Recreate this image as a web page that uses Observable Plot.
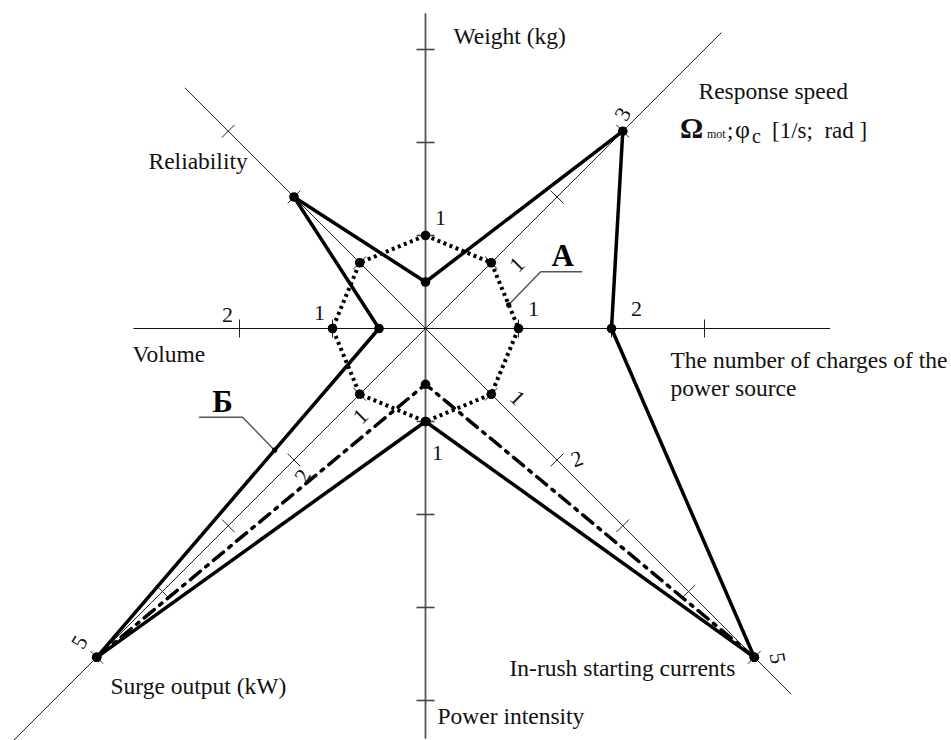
<!DOCTYPE html>
<html><head><meta charset="utf-8">
<script src="https://cdn.jsdelivr.net/npm/d3@7"></script>
<script src="https://cdn.jsdelivr.net/npm/@observablehq/plot@0.6"></script>
<style>body{margin:0;background:#fff;} svg text{white-space:pre;}</style>
</head><body><div id="chart"></div>
<script>
// ---------- data ----------
const axisNames = ["Weight (kg)", "Response speed", "The number of charges of the power source",
  "In-rush starting currents", "Power intensity", "Surge output (kW)", "Volume", "Reliability"];
const axisAngles = [90, 45, 0, -45, -90, -135, 180, 135];
const axisLengths = [3.39, 4.5, 4.35, 5.56, 4.41, 6.26, 3.14, 3.66];
const axisTickCounts = [3, 3, 3, 5, 4, 5, 2, 3];
const seriesB = [0.5, 3, 2, 5, 1, 5, 0.5, 2];          // solid (Б)
const seriesA = [1, 1, 1, 1, 1, 1, 1, 1];              // dotted (A)
const seriesDashDot = [null, null, null, 5, 0.6, 5, null, null];
const tickLabelAxis  = [0, 4, 2, 2, 6, 6, 1, 1, 3, 3, 3, 5, 5, 5];
const tickLabelValue = [1, 1, 1, 2, 1, 2, 1, 3, 1, 2, 5, 1, 2, 5];

// ---------- layout ----------
const W = 951, H = 740, cx = 425, cy = 328, U = 93;
const tickLabelOffset = [[15,-18],[12,31],[15,-20],[25,-20],[-13,-16],[-12,-14],[26,2],[0,-17],[26,4],[20,-1],[23,1],[1,22],[9,16],[-17,-15]];
const tickLabelRotate = [0,0,0,0,0,0,-45,-60,45,-20,80,-45,-60,-60];
const titleLines = [
  {t:"Weight (kg)", px:453, py:43},
  {t:"Response speed", px:698, py:98},
  {t:"Reliability", px:148, py:168},
  {t:"Volume", px:132, py:361},
  {t:"The number of charges of the", px:670, py:367},
  {t:"power source", px:670, py:395},
  {t:"Surge output (kW)", px:110, py:693},
  {t:"In-rush starting currents", px:509, py:675},
  {t:"Power intensity", px:437, py:723}
];

const rad = d => d * Math.PI / 180;
function polar(i, r) { const a = rad(axisAngles[i]); return {x: r * Math.cos(a), y: r * Math.sin(a)}; }
const fromPx = (px, py) => ({x: (px - cx) / U, y: (cy - py) / U});
const off = (p, dx, dy) => ({x: p.x + dx / U, y: p.y - dy / U});

const spokes = axisNames.map((n, i) => ({i, ...polar(i, axisLengths[i])}));
const ticks = [];
axisNames.forEach((n, i) => {
  const a = rad(axisAngles[i]), h = 9 / U;
  for (let k = 1; k <= axisTickCounts[i]; k++) {
    const p = polar(i, k);
    ticks.push({i, x1: p.x - h * Math.sin(a), y1: p.y + h * Math.cos(a), x2: p.x + h * Math.sin(a), y2: p.y - h * Math.cos(a)});
  }
});
const tickLabels = tickLabelAxis.map((ax, j) => {
  const p = polar(ax, tickLabelValue[j]);
  return {text: String(tickLabelValue[j]), x: p.x, y: p.y, dx: tickLabelOffset[j][0], dy: tickLabelOffset[j][1], rot: tickLabelRotate[j]};
});
const ptsB = seriesB.map((v, i) => polar(i, v));
const ptsA = seriesA.map((v, i) => polar(i, v));
const ptsD = [];
seriesDashDot.forEach((v, i) => { if (v != null) ptsD.push(polar(i, v)); });

const lerp = (p, q, t) => ({x: p.x + (q.x - p.x) * t, y: p.y + (q.y - p.y) * t});
const anchorA = lerp(ptsA[1], ptsA[2], 0.64);
const anchorB = lerp(ptsB[5], ptsB[6], 0.63);
const elbowA = off(anchorA, 32, -33), endA = off(elbowA, 41, 0);
const elbowB = off(anchorB, -32, -33), endB = off(elbowB, -43, 0);

const serif = "'Liberation Serif', 'Times New Roman', serif";
const isVert = d => d.i === 0 || d.i === 4;
const isHorz = d => d.i === 2 || d.i === 6;
const isDiag = d => !isVert(d) && !isHorz(d);

const chart = Plot.plot({
  width: W, height: H, margin: 0,
  x: {domain: [-cx / U, (W - cx) / U], axis: null},
  y: {domain: [-(H - cy) / U, cy / U], axis: null},
  style: {background: "#fff", fontFamily: serif},
  marks: [
    Plot.link(spokes.filter(isVert), {x1: 0, y1: 0, x2: "x", y2: "y", stroke: "#555", strokeWidth: 1.8}),
    Plot.link(spokes.filter(isHorz), {x1: 0, y1: 0, x2: "x", y2: "y", stroke: "#111", strokeWidth: 1.2}),
    Plot.link(spokes.filter(isDiag), {x1: 0, y1: 0, x2: "x", y2: "y", stroke: "#222", strokeWidth: 1}),
    Plot.link(ticks.filter(isVert), {x1: "x1", y1: "y1", x2: "x2", y2: "y2", stroke: "#444", strokeWidth: 1.6}),
    Plot.link(ticks.filter(d => !isVert(d)), {x1: "x1", y1: "y1", x2: "x2", y2: "y2", stroke: "#222", strokeWidth: 1}),
    Plot.line(ptsA, {x: "x", y: "y", curve: "linear-closed", stroke: "#000", strokeWidth: 4, strokeDasharray: "3,3.5", strokeLinecap: "butt"}),
    Plot.line(ptsD, {x: "x", y: "y", stroke: "#000", strokeWidth: 3.5, strokeDasharray: "13,7,3,7"}),
    Plot.line(ptsB, {x: "x", y: "y", curve: "linear-closed", stroke: "#000", strokeWidth: 3.5, strokeLinejoin: "miter"}),
    Plot.dot(ptsA, {x: "x", y: "y", r: 4.8, fill: "#000"}),
    Plot.dot(ptsB, {x: "x", y: "y", r: 4.8, fill: "#000"}),
    Plot.dot(ptsD, {x: "x", y: "y", r: 4.8, fill: "#000"}),
    Plot.line([anchorA, elbowA, endA], {x: "x", y: "y", stroke: "#555", strokeWidth: 1.5}),
    Plot.line([anchorB, elbowB, endB], {x: "x", y: "y", stroke: "#555", strokeWidth: 1.5}),
    Plot.dot([anchorA, anchorB], {x: "x", y: "y", r: 2.6, fill: "#000"}),
    Plot.text([{...elbowA, t: "A"}], {x: "x", y: "y", text: "t", dx: 22, dy: -6, lineAnchor: "bottom", textAnchor: "middle", fontSize: 31, fontWeight: "bold", fill: "#000", fontFamily: serif}),
    Plot.text([{...elbowB, t: "Б"}], {x: "x", y: "y", text: "t", dx: -20, dy: -5, lineAnchor: "bottom", textAnchor: "middle", fontSize: 31, fontWeight: "bold", fill: "#000", fontFamily: serif}),
    ...tickLabels.map(d => Plot.text([d], {x: "x", y: "y", text: "text", dx: d.dx, dy: d.dy, rotate: d.rot, lineAnchor: "middle", textAnchor: "middle", fontSize: 22, fill: "#111", fontFamily: serif})),
    Plot.text(titleLines.map(d => ({...fromPx(d.px, d.py), t: d.t})), {x: "x", y: "y", text: "t", textAnchor: "start", lineAnchor: "bottom", fontSize: 23.5, fill: "#111", fontFamily: serif})
  ]
});
document.getElementById("chart").append(chart);

// Formula line with subscripts (real text)
const sx = chart.scale("x"), sy = chart.scale("y");
const fp = fromPx(680, 138);
const fx = sx.apply(fp.x), fy = sy.apply(fp.y);
const ft = d3.select(chart).append("text").attr("y", fy).attr("fill", "#111")
  .attr("text-anchor", "start").style("font-family", serif);
ft.append("tspan").attr("x", fx).attr("font-size", 29).attr("font-weight", "bold").text("Ω");
ft.append("tspan").attr("x", fx + 27).attr("font-size", 12).text("mot");
ft.append("tspan").attr("x", fx + 47).attr("font-size", 23).text(";");
ft.append("tspan").attr("x", fx + 55).attr("font-size", 26).text("φ");
ft.append("tspan").attr("x", fx + 72).attr("dy", 5).attr("font-size", 20).text("c");
ft.append("tspan").attr("x", fx + 92).attr("dy", -5).attr("font-size", 23).text("[1/s;  rad ]");
</script>
</body></html>
